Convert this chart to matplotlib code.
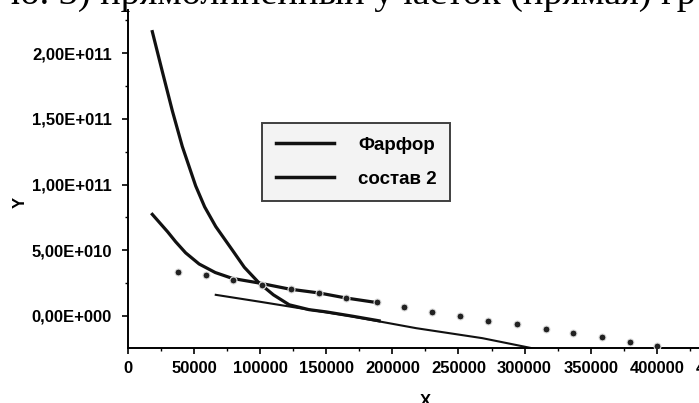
import numpy as np
import matplotlib.pyplot as plt
from matplotlib.ticker import MultipleLocator, FuncFormatter

# steep curve (Фарфор)
farfor_x = [18400, 26000, 33600, 41100, 51200, 58000, 66400, 79000, 88000, 99200,
            110000, 122000, 137000, 150000, 170000, 190000]
farfor_y = [2.165e11, 1.86e11, 1.56e11, 1.29e11, 0.99e11, 0.83e11, 0.68e11, 0.50e11,
            0.37e11, 0.25e11, 0.16e11, 0.084e11, 0.047e11, 0.030e11, -0.003e11, -0.038e11]

# flatter curve (состав 2)
sostav_x = [18400, 30000, 36000, 43600, 53800, 66000, 79000, 99200, 122000, 144700,
            164900, 187600]
sostav_y = [7.73e10, 6.4e10, 5.65e10, 4.8e10, 3.95e10, 3.3e10, 2.85e10, 2.5e10, 2.04e10,
            1.74e10, 1.36e10, 1.02e10]

# thin straight segment
line_x = [66400, 100000, 135000, 167000, 218000, 268000, 300000, 312000]
line_y = [1.6e10, 1.07e10, 0.5e10, 0.0, -0.94e10, -1.7e10, -2.35e10, -2.6e10]

# scattered points
pts_x = [38000, 59000, 79800, 101500, 123000, 144700, 165000, 188000, 209000, 230300,
         251500, 272700, 294000, 316000, 336400, 358300, 379500, 400000]
pts_y = [3.37e10, 3.14e10, 2.76e10, 2.37e10, 2.07e10, 1.76e10, 1.38e10, 1.07e10, 0.69e10,
         0.31e10, 0.0, -0.38e10, -0.61e10, -1.0e10, -1.3e10, -1.6e10, -1.99e10, -2.3e10]

fig = plt.figure(figsize=(6.99, 4.03), dpi=100)
ax = fig.add_axes([0.1831, 0.1365, 0.851, 0.8387])

ax.plot(line_x, line_y, color='#111111', lw=1.5, zorder=2)
ax.plot(farfor_x, farfor_y, color='#111111', lw=2.3, zorder=3, label='Фарфор')
ax.plot(sostav_x, sostav_y, color='#111111', lw=2.3, zorder=3, label='состав 2')
ax.plot(pts_x, pts_y, ls='none', marker='o', ms=5, mfc='#222222', mec='#dddddd',
        mew=0.8, zorder=4)

ax.set_xlim(0, 450000)
ax.set_ylim(-2.45e10, 2.33e11)

ax.xaxis.set_major_locator(MultipleLocator(50000))
ax.xaxis.set_minor_locator(MultipleLocator(25000))
ax.yaxis.set_major_locator(MultipleLocator(5e10))
ax.yaxis.set_minor_locator(MultipleLocator(2.5e10))

def yfmt(v, pos):
    if v == 0:
        return '0,00E+000'
    e = int(np.floor(np.log10(abs(v))))
    m = v / 10**e
    return f'{m:.2f}'.replace('.', ',') + f'E+{e:03d}'

ax.yaxis.set_major_formatter(FuncFormatter(yfmt))
ax.xaxis.set_major_formatter(FuncFormatter(lambda v, p: f'{int(v)}'))

for s in ['top', 'right']:
    ax.spines[s].set_visible(False)
for s in ['left', 'bottom']:
    ax.spines[s].set_linewidth(1.4)

ax.tick_params(which='major', direction='out', length=4.5, width=1.2)
ax.tick_params(which='minor', direction='out', length=2.5, width=1.0)
ax.tick_params(axis='y', which='major', pad=7)
ax.tick_params(axis='x', which='major', pad=5)
for lab in ax.get_xticklabels() + ax.get_yticklabels():
    lab.set_family('Liberation Sans')
    lab.set_weight('bold')
    lab.set_fontsize(12)

ax.set_xlabel('X', family='Liberation Sans', weight='bold', fontsize=12, labelpad=13)
ax.set_ylabel('Y', family='Liberation Sans', weight='bold', fontsize=12)
ax.yaxis.set_label_coords(-0.168, 0.43)

leg = ax.legend(loc='upper left', bbox_to_anchor=(262 / 699, 1 - 123 / 403),
                bbox_transform=fig.transFigure, borderaxespad=0,
                prop={'family': 'Liberation Sans', 'weight': 'bold', 'size': 13.5},
                handlelength=3.1, handletextpad=1.3, labelspacing=0.9, borderpad=0.72,
                frameon=True, fancybox=False)
leg.get_frame().set_edgecolor('#111111')
leg.get_frame().set_linewidth(1.4)
leg.get_frame().set_facecolor('#f1f1f1')
for h in leg.get_lines():
    h.set_linewidth(2.5)

# cropped line of page text above the chart
fig.text(0.0157, 1 - 3.5 / 403, 'ю. 3) прямолинейный участок (прямая) гр',
         family='Liberation Serif', fontsize=27.5, va='baseline', ha='left')

fig.savefig('out.png', dpi=100)
